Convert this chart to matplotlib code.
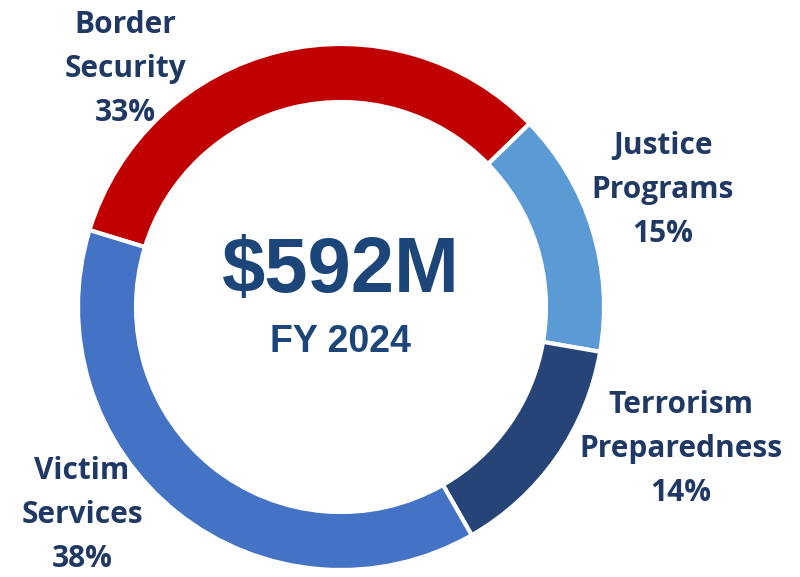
import matplotlib.pyplot as plt

# Daten
categories = ['Border\nSecurity', 'Justice\nPrograms', 'Terrorism\nPreparedness', 'Victim\nServices']
shares = [33, 15, 14, 38]
colors = ['#C00000', '#5B9BD5', '#264478', '#4472C4']
total_label = '$592M'
year_label = 'FY 2024'

# label positions in pixel coords (x, y from top)
label_pos = [(125, 69), (663, 190), (681, 449), (82, 515)]

W, H = 800, 577
fig = plt.figure(figsize=(W / 100, H / 100), dpi=100)
ax = fig.add_axes([0, 0, 1, 1])

cx, cy, r = 341, 307, 263
# y axis is flipped below, so angles are mirrored: start -163, counterclockwise
ax.pie(shares, colors=colors, startangle=-163, counterclock=True,
       center=(cx, cy), radius=r, frame=True,
       wedgeprops=dict(width=58, edgecolor='white', linewidth=3))
ax.set_xlim(0, W)
ax.set_ylim(H, 0)
ax.set_aspect('equal')
ax.axis('off')

navy = '#1F3864'
for name, val, (x, y) in zip(categories, shares, label_pos):
    ax.text(x, y, f"{name}\n{val}%", ha='center', va='center', fontsize=21.5,
            fontweight='bold', color=navy, family='Open Sans', linespacing=1.6)

ax.text(cx, 272, total_label, ha='center', va='center', fontsize=56,
        fontweight='bold', color='#1C4579', family='Liberation Sans')
ax.text(cx, 342, year_label, ha='center', va='center', fontsize=27,
        fontweight='bold', color='#1C4579', family='Liberation Sans')

fig.savefig('out.png', dpi=100)
